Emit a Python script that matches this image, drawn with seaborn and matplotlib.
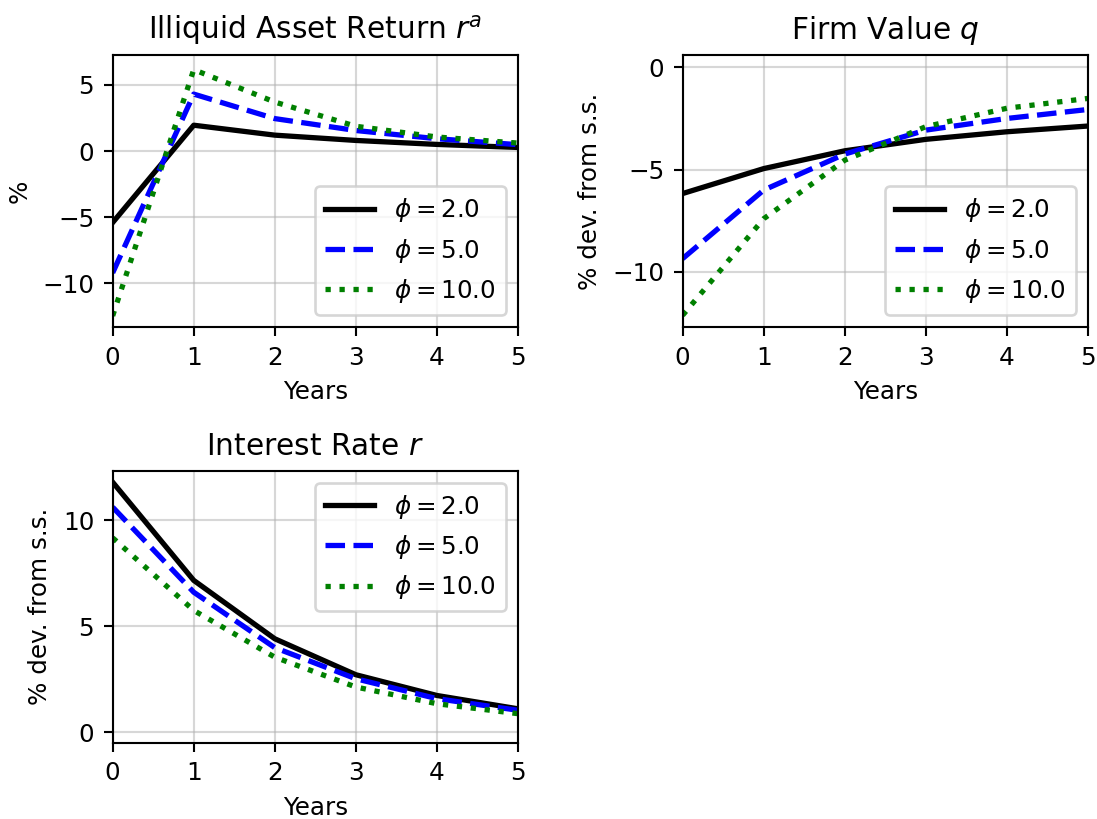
import matplotlib
matplotlib.use('Agg')
from matplotlib import pyplot as plt
from matplotlib.ticker import MultipleLocator
import seaborn as sns

years = [0, 1, 2, 3, 4, 5]
phis = [2.0, 5.0, 10.0]

# illiquid asset return r^a, in %
ra_phi2 = [-5.4, 1.95, 1.2, 0.8, 0.5, 0.27]
ra_phi5 = [-9.2, 4.3, 2.45, 1.55, 0.93, 0.48]
ra_phi10 = [-12.45, 6.15, 3.7, 1.87, 1.06, 0.6]

# firm value q, % dev. from s.s.
q_phi2 = [-6.17, -4.95, -4.08, -3.52, -3.15, -2.87]
q_phi5 = [-9.35, -6.0, -4.24, -3.07, -2.5, -2.06]
q_phi10 = [-12.12, -7.4, -4.54, -2.9, -2.0, -1.52]

# interest rate r, % dev. from s.s.
r_phi2 = [11.81, 7.17, 4.41, 2.71, 1.73, 1.1]
r_phi5 = [10.63, 6.61, 3.99, 2.52, 1.58, 1.03]
r_phi10 = [9.18, 5.75, 3.54, 2.13, 1.34, 0.87]

colors = ['black', 'blue', 'green']
styles = ['-', '--', ':']

DPI = 190
plt.rcParams['font.size'] = 9.35


def draw_panel(ax, series, title, ylabel, ylim, legend_loc):
    for phi, ys, color, ls in zip(phis, series, colors, styles):
        sns.lineplot(x=years, y=ys, ax=ax, color=color, linestyle=ls,
                     linewidth=2, label=rf'$\phi = {phi}$')
    ax.set_title(title)
    ax.set_xlabel('Years')
    ax.set_ylabel(ylabel)
    ax.set_xlim(0, 5)
    ax.set_xticks(years)
    ax.set_ylim(*ylim)
    ax.yaxis.set_major_locator(MultipleLocator(5))
    ax.grid(alpha=0.5)
    ax.legend(loc=legend_loc)


def main():
    fig, axes = plt.subplots(2, 2, figsize=(1097 / DPI, 819 / DPI), dpi=DPI)
    fig.subplots_adjust(left=0.1027, right=0.9918, top=0.9328,
                        bottom=0.0932, wspace=0.406, hspace=0.527)

    draw_panel(axes[0, 0], [ra_phi2, ra_phi5, ra_phi10],
               r'Illiquid Asset Return $r^a$', '%', (-13.3, 7.25), 'lower right')
    draw_panel(axes[0, 1], [q_phi2, q_phi5, q_phi10],
               r'Firm Value $q$', '% dev. from s.s.', (-12.7, 0.6), 'lower right')
    draw_panel(axes[1, 0], [r_phi2, r_phi5, r_phi10],
               r'Interest Rate $r$', '% dev. from s.s.', (-0.5, 12.36), 'upper right')
    fig.delaxes(axes[1, 1])

    fig.savefig('out.png')


if __name__ == '__main__':
    main()
